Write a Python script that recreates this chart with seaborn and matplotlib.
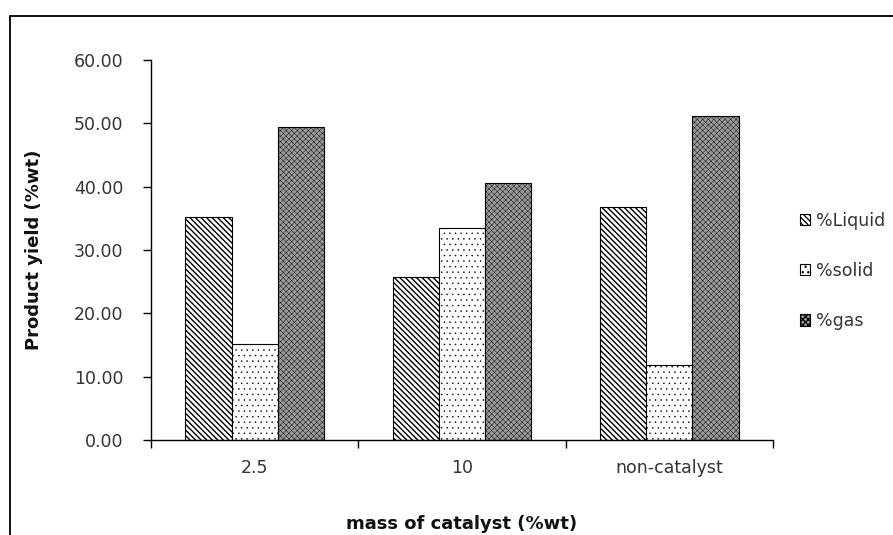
import matplotlib
matplotlib.use("Agg")
import matplotlib.pyplot as plt
import seaborn as sns
import pandas as pd
from matplotlib.patches import Rectangle, Patch

categories = ["2.5", "10", "non-catalyst"]
series = ["%Liquid", "%solid", "%gas"]
liquid = [35.2, 25.8, 36.8]
solid = [15.1, 33.4, 11.9]
gas = [49.5, 40.6, 51.1]
yticks = [0, 10, 20, 30, 40, 50, 60]

rows = []
for name, vals in zip(series, [liquid, solid, gas]):
    for c, v in zip(categories, vals):
        rows.append({"cat": c, "series": name, "value": v})
df = pd.DataFrame(rows)

sns.set_theme(style="white")
plt.rcParams["font.family"] = ["DejaVu Sans"]
plt.rcParams["hatch.linewidth"] = 0.9

fig = plt.figure(figsize=(8.93, 5.35), dpi=100)
ax = fig.add_axes([151 / 893, 1 - 440 / 535, (773 - 151) / 893, (440 - 60) / 535])

sns.barplot(data=df, x="cat", y="value", hue="series", order=categories,
            hue_order=series, palette=["white", "white", "white"],
            width=0.67, edgecolor="black", linewidth=0.8, ax=ax, legend=True)

styles = [
    dict(facecolor="white", hatch="\\" * 6, hlw=1.0),
    dict(facecolor="white", hatch="...", hlw=0.3),
    dict(facecolor="#9a9a9a", hatch="x" * 6, hlw=0.3),
]
for cont, st in zip(ax.containers, styles):
    for p in cont.patches:
        p.set_facecolor(st["facecolor"])
        p.set_hatch(st["hatch"])
        p.set_edgecolor("black")
        if hasattr(p, "set_hatch_linewidth"):
            p.set_hatch_linewidth(st["hlw"])

ax.set_ylim(0, 60)
ax.set_xlim(-0.5, 2.5)
ax.set_yticks(yticks)
ax.set_yticklabels([f"{v:.2f}" for v in yticks])
ax.set_xticks(range(len(categories)))
ax.set_xticklabels(categories)
ax.set_xticks([-0.5, 0.5, 1.5, 2.5], minor=True)
ax.tick_params(axis="x", which="major", length=0, pad=14, labelsize=12.5, colors="#333333")
ax.tick_params(axis="x", which="minor", length=6, width=1, direction="out", color="black", bottom=True)
ax.tick_params(axis="y", which="major", length=6, width=1, direction="out", color="black",
               left=True, pad=14, labelsize=12.5, labelcolor="#333333")

for s in ["top", "right"]:
    ax.spines[s].set_visible(False)
for s in ["left", "bottom"]:
    ax.spines[s].set_color("black")
    ax.spines[s].set_linewidth(1.0)

ax.set_xlabel("mass of catalyst (%wt)", fontsize=13, fontweight="bold", labelpad=27, color="#111111")
ax.set_ylabel("Product yield (%wt)", fontsize=13, fontweight="bold", labelpad=22, color="#111111")

leg = ax.get_legend()
if leg is not None:
    leg.remove()
proxies = []
for st in styles:
    pp = Patch(facecolor=st["facecolor"], hatch=st["hatch"], edgecolor="black", linewidth=0.8)
    if hasattr(pp, "set_hatch_linewidth"):
        pp.set_hatch_linewidth(st["hlw"])
    proxies.append(pp)
fig.legend(proxies, series, loc="center left", bbox_to_anchor=(800 / 893, 1 - 271 / 535),
           frameon=False, fontsize=12.5, handlelength=0.6, handleheight=0.6,
           handletextpad=0.3, labelspacing=1.85, borderpad=0, borderaxespad=0,
           labelcolor="#333333")

fig.patches.append(Rectangle((10 / 893, -0.1), 1.2, 1 - 16 / 535 + 0.1, transform=fig.transFigure,
                             fill=False, edgecolor="black", linewidth=1.3, clip_on=False))

fig.savefig("out.png", dpi=100)
